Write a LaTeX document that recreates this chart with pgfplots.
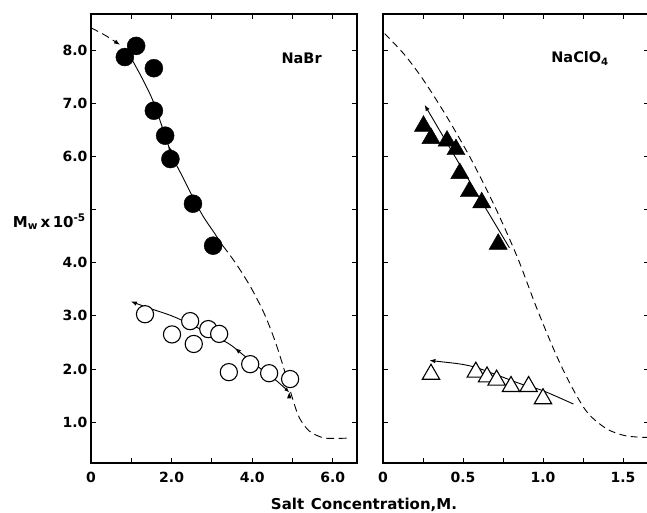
\documentclass[border=0pt]{standalone}
\usepackage{fontspec}
\setmainfont{DejaVu Sans}
\usepackage{pgfplots}
\pgfplotsset{compat=1.18}
\usetikzlibrary{arrows.meta,decorations.markings}

\newcommand\tickfont{\fontsize{14}{15}\selectfont\bfseries}
\newcommand\ylabfont{\fontsize{15}{16}\selectfont\bfseries}
\newcommand\labfont{\fontsize{14.5}{16}\selectfont\bfseries}
\newcommand\xlabfont{\fontsize{15}{17}\selectfont\bfseries}

\pgfplotsset{
  panel/.style={
    scale only axis,
    width=266pt, height=449pt,
    ymin=0.23, ymax=8.68,
    axis line style={line width=1.3pt},
    every tick/.style={black, line width=0.9pt},
    major tick length=5pt, minor tick length=5pt,
    tick align=inside,
    ytick={1,2,3,4,5,6,7,8},
    ticklabel style={font=\tickfont},
    xticklabel style={yshift=-5.5pt},
    /pgf/number format/assume math mode=true,
  },
  curve/.style={black, line width=0.9pt, smooth, no marks},
  dashcurve/.style={curve, dash pattern=on 8pt off 4.5pt},
  tipend/.style={-{Latex[length=6pt,width=4.5pt]}},
  tipstart/.style={{Latex[length=6pt,width=4.5pt]}-},
  midarrow/.style={postaction={decorate}, decoration={markings,
      mark=at position #1 with {\arrowreversed{Latex[length=6pt,width=4.5pt]}}}},
  filledcirc/.style={only marks, mark=*, mark size=9pt, mark options={fill=black, draw=black}},
  opencirc/.style={only marks, mark=*, mark size=8.6pt, mark options={fill=white, draw=black, line width=1.1pt}},
  filledtri/.style={only marks, mark=triangle*, mark size=10.5pt, mark options={fill=black, draw=black}},
  opentri/.style={only marks, mark=triangle*, mark size=10pt, mark options={fill=white, draw=black, line width=1.1pt}},
}

\begin{document}
\begin{tikzpicture}
\useasboundingbox (0,0) rectangle (647pt,512pt);
\begin{scope}
\clip (0,0) rectangle (647pt,512pt);

% ---------------- NaBr ----------------
\begin{axis}[panel,
  at={(91pt,49pt)}, anchor=south west,
  xmin=0, xmax=6.6,
  xtick={0,2,4,6}, xticklabels={0,2.0,4.0,6.0},
  minor xtick={1,3,5},
  yticklabels={1.0,2.0,3.0,4.0,{},6.0,7.0,8.0},
]
% leading dashed segment
\addplot[dashcurve, tipend] coordinates {(0,8.42) (0.35,8.28) (0.72,8.10)};
% fitted curve through the filled points
\addplot[curve, midarrow=0.47] coordinates {
  (0.90,7.93) (1.07,7.75) (1.53,7.06) (1.99,6.06) (2.27,5.62)
  (2.73,4.94) (3.06,4.56) (3.27,4.32)};
% extrapolated tail
\addplot[dashcurve] coordinates {
  (3.27,4.32) (3.60,3.98) (3.97,3.53) (4.30,3.04) (4.55,2.56)
  (4.72,2.17) (4.87,1.79) (5.01,1.42) (5.17,1.08) (5.42,0.83)
  (5.80,0.70) (6.41,0.70)};
% line through the open points
\addplot[curve, {Latex[length=6pt,width=4.5pt]}-{Latex[length=5pt,width=4pt]}, midarrow=0.62] coordinates {
  (0.99,3.27) (1.50,3.13) (2.00,3.00) (2.50,2.83) (3.00,2.64)
  (3.43,2.47) (3.80,2.25) (4.20,2.01) (4.60,1.78) (4.92,1.56)};

\addplot[filledcirc] coordinates {
  (0.84,7.87) (1.12,8.08) (1.56,7.66) (1.56,6.86)
  (1.84,6.39) (1.97,5.95) (2.53,5.11) (3.03,4.32)};
\addplot[opencirc] coordinates {
  (1.34,3.03) (2.01,2.65) (2.46,2.90) (2.55,2.47) (2.91,2.75)
  (3.18,2.66) (3.42,1.94) (3.95,2.09) (4.42,1.92) (4.94,1.81)};

\node[anchor=base west, font=\labfont] at (axis cs:4.64,7.75) {NaBr};
\end{axis}

% ---------------- NaClO4 ----------------
\begin{axis}[panel,
  at={(383pt,49pt)}, anchor=south west,
  xmin=0, xmax=1.6625,
  xtick={0,0.5,1,1.5}, xticklabels={0,0.5,1.0,1.5},
  minor xtick={0.25,0.75,1.25},
  yticklabels={},
]
\addplot[dashcurve, dash pattern=on 7pt off 4.5pt] coordinates {
  (0.01,8.31) (0.13,7.93) (0.25,7.45) (0.40,6.74) (0.55,5.95)
  (0.70,5.05) (0.84,4.10) (0.96,3.15) (1.08,2.28) (1.18,1.66)
  (1.28,1.17) (1.40,0.87) (1.52,0.74) (1.66,0.71)};
\addplot[curve, tipend] coordinates {(0.79,4.28) (0.52,5.64) (0.26,6.97)};
\addplot[curve, tipstart] coordinates {
  (0.29,2.16) (0.54,2.06) (0.70,1.90) (0.86,1.72) (1.00,1.59) (1.19,1.34)};

\addplot[filledtri] coordinates {
  (0.253,6.57) (0.30,6.34) (0.40,6.29) (0.456,6.13)
  (0.48,5.68) (0.54,5.34) (0.617,5.13) (0.72,4.35)};
\addplot[opentri] coordinates {
  (0.30,1.90) (0.58,1.94) (0.65,1.85) (0.71,1.79)
  (0.80,1.67) (0.91,1.67) (1.00,1.44)};

\node[anchor=base west, font=\labfont] at (axis cs:1.03,7.76) {NaClO\textsubscript{4}};
\end{axis}

% shared axis titles
\node[anchor=base east, font=\ylabfont, inner sep=0pt] at (86pt,285pt)
  {M\textsubscript{w}\,x\,10\textsuperscript{-5}};
\node[anchor=base, font=\xlabfont, inner sep=0pt] at (364pt,3pt)
  {Salt\hspace{0.45em}Concentration,M.};
\end{scope}
\end{tikzpicture}
\end{document}
